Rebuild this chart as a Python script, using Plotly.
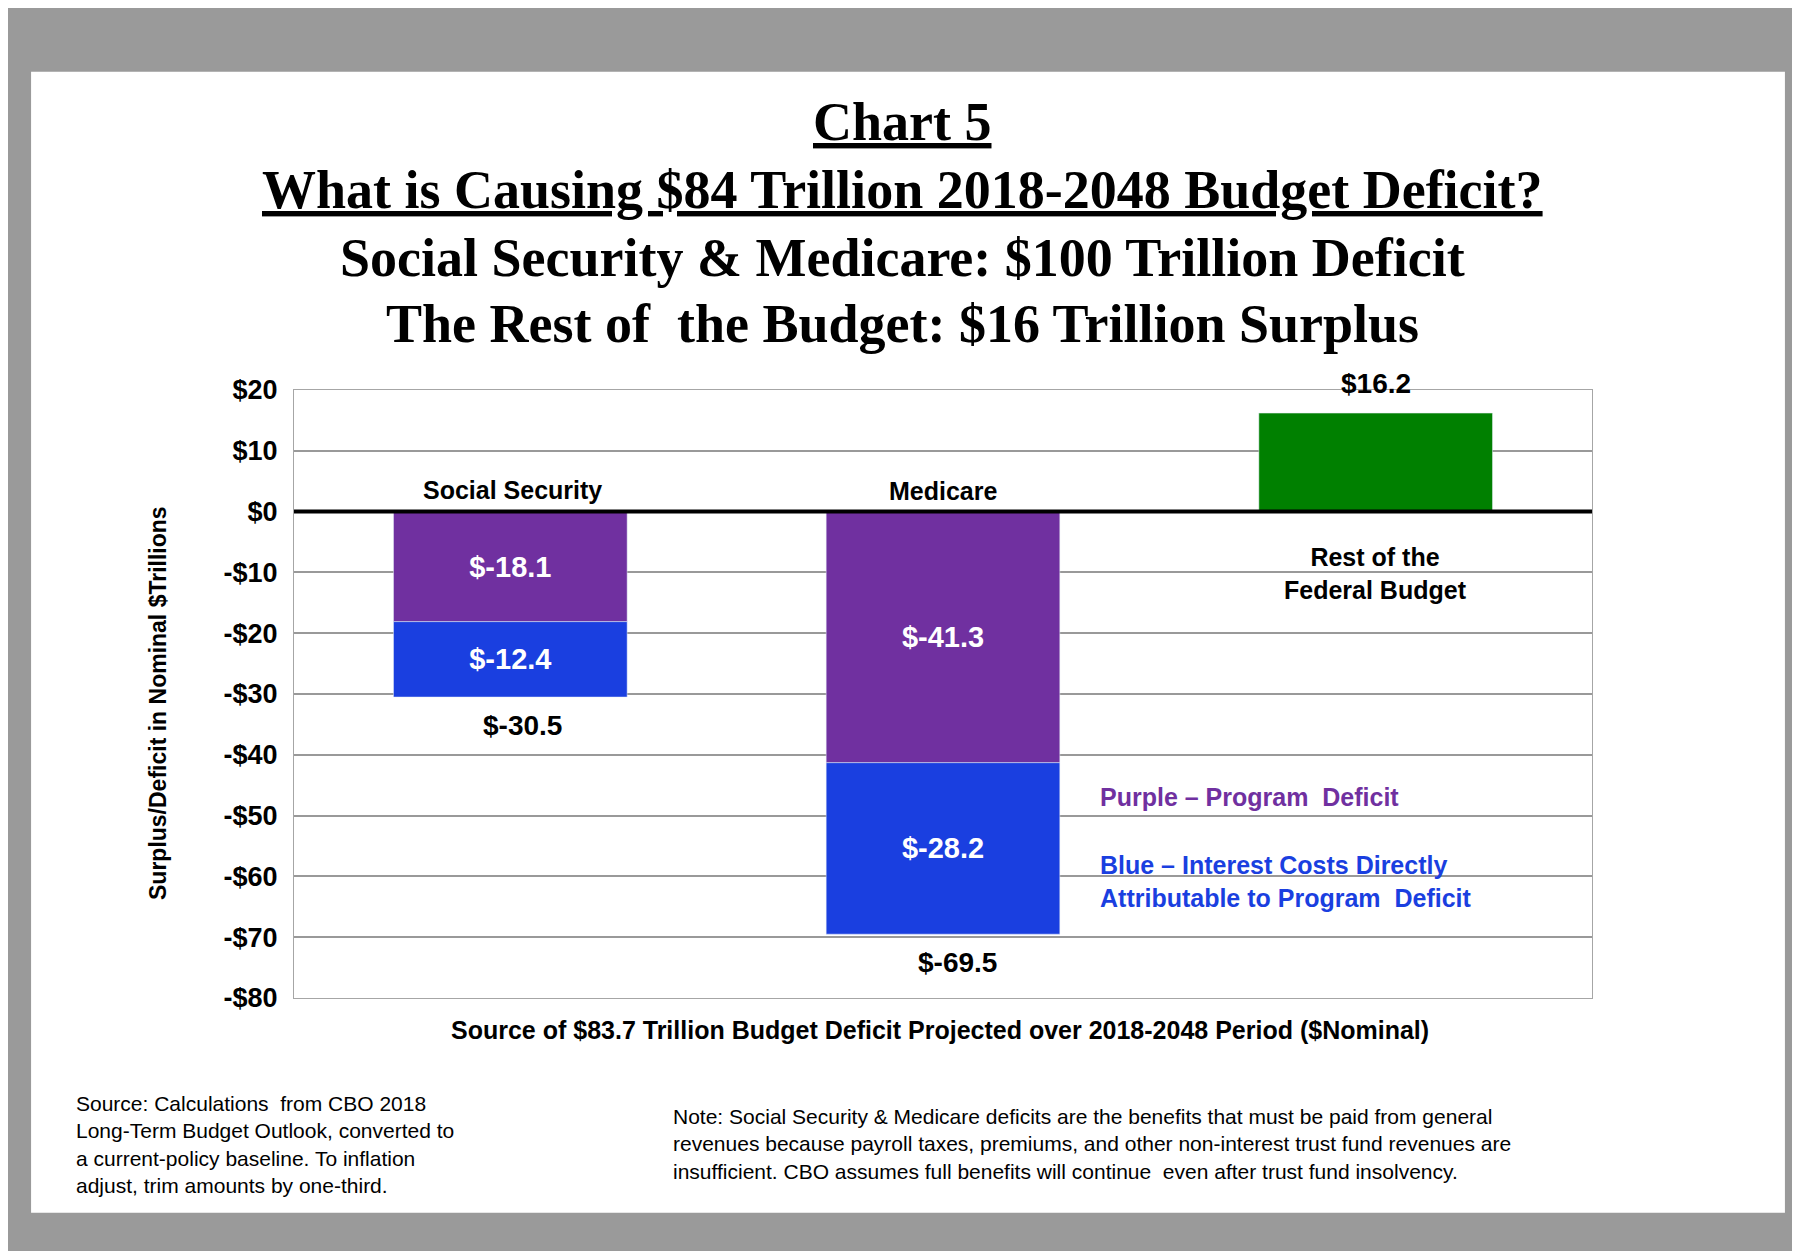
import plotly.graph_objects as go

categories = ["Social Security", "Medicare", "Rest of the Federal Budget"]
program_deficit = [-18.1, -41.3, 0]
interest_costs = [-12.4, -28.2, 0]
surplus = [0, 0, 16.2]
totals = [-30.5, -69.5, 16.2]
y_ticks = [20, 10, 0, -10, -20, -30, -40, -50, -60, -70, -80]
y_labels = ["$20", "$10", "$0", "-$10", "-$20", "-$30", "-$40", "-$50", "-$60", "-$70", "-$80"]

W, H = 1800, 1251
L, R, T, B = 286, 216, 382, 261
SX, SY = W / 1560, H / 1080

def px(x):  # reference pixel -> paper x
    return (x * SX - L) / (W - L - R)

def py(y):
    return (H - B - y * SY) / (H - T - B)

PURPLE = "#7030A0"
BLUE = "#1A3FE0"
GREEN = "#008000"
SANS = "Liberation Sans"
SERIF = "Liberation Serif"

fig = go.Figure()
fig.add_trace(go.Bar(x=categories, y=program_deficit, marker_color=PURPLE, width=0.54,
                     text=["<b>$-18.1</b>", "<b>$-41.3</b>", ""], textposition="inside",
                     insidetextanchor="middle", textfont=dict(color="white", size=29, family=SANS)))
fig.add_trace(go.Bar(x=categories, y=interest_costs, marker_color=BLUE, width=0.54,
                     text=["<b>$-12.4</b>", "<b>$-28.2</b>", ""], textposition="inside",
                     insidetextanchor="middle", textfont=dict(color="white", size=29, family=SANS)))
fig.add_trace(go.Bar(x=categories, y=surplus, marker_color=GREEN, width=0.54))

ann = []
for c, t in zip(categories, totals):
    ann.append(dict(x=c, y=t, text=f"<b>${t}</b>", showarrow=False, yshift=-28 if t < 0 else 30,
                    font=dict(size=28, family=SANS, color="black")))
ann[0]["xshift"] = 12
ann[1]["xshift"] = 14

def txt(x, y, s, size, color="black", family=SANS, align="center", xanchor="center"):
    ann.append(dict(xref="paper", yref="paper", x=px(x), y=py(y), text=s, showarrow=False,
                    font=dict(size=size, color=color, family=family), align=align,
                    xanchor=xanchor, yanchor="middle"))

txt(775, 98, "<b><u>Chart 5</u></b>", 54, family=SERIF)
txt(775, 157, "<b><u>What is Causing $84 Trillion 2018-2048 Budget Deficit?</u></b>", 54, family=SERIF)
txt(775, 216, "<b>Social Security &amp; Medicare: $100 Trillion Deficit</b>", 54, family=SERIF)
txt(775, 273, "<b>The Rest of  the Budget: $16 Trillion Surplus</b>", 54, family=SERIF)
txt(437, 416, "<b>Social Security</b>", 25)
txt(810, 417, "<b>Medicare</b>", 25)
txt(1185, 488, "<b>Rest of the<br>Federal Budget</b>", 25)
txt(945, 681, "<b>Purple – Program  Deficit</b>", 25, color=PURPLE, align="left", xanchor="left")
txt(945, 754, "<b>Blue – Interest Costs Directly<br>Attributable to Program  Deficit</b>", 25,
    color=BLUE, align="left", xanchor="left")
txt(808, 882, "<b>Source of $83.7 Trillion Budget Deficit Projected over 2018-2048 Period ($Nominal)</b>", 25)
txt(57, 981, "Source: Calculations  from CBO 2018<br>Long-Term Budget Outlook, converted to<br>"
    "a current-policy baseline. To inflation<br>adjust, trim amounts by one-third.", 21,
    align="left", xanchor="left")
txt(575, 981, "Note: Social Security &amp; Medicare deficits are the benefits that must be paid from general<br>"
    "revenues because payroll taxes, premiums, and other non-interest trust fund revenues are<br>"
    "insufficient. CBO assumes full benefits will continue  even after trust fund insolvency.", 21,
    align="left", xanchor="left")
ann.append(dict(xref="paper", yref="paper", x=px(117), y=py(600), textangle=-90, showarrow=False,
                text="<b>Surplus/Deficit in Nominal $Trillions</b>",
                font=dict(size=23, family=SANS, color="black")))

fig.update_layout(
    width=W, height=H, margin=dict(l=L, r=R, t=T, b=B),
    paper_bgcolor="#9a9a9a", plot_bgcolor="white",
    barmode="relative", bargap=0.46, showlegend=False,
    annotations=ann,
    shapes=[
        dict(type="rect", xref="paper", yref="paper", x0=px(20), x1=px(1540), y0=py(1040), y1=py(55),
             fillcolor="white", line=dict(width=0), layer="below"),
        dict(type="line", xref="paper", yref="y", x0=0, x1=1, y0=0, y1=0,
             line=dict(color="black", width=4)),
    ],
    xaxis=dict(showticklabels=False, range=[-0.5, 2.5], showline=True, mirror=True,
               linecolor="#a6a6a6", ticks=""),
    yaxis=dict(range=[-80, 20], tickvals=y_ticks, ticktext=y_labels, showgrid=True, gridcolor="#999999",
               gridwidth=1.5, zeroline=False, showline=True, mirror=True, linecolor="#a6a6a6",
               tickfont=dict(size=27, family=SANS, color="black", weight="bold"), ticklabelstandoff=10),
    font=dict(family=SANS),
)
fig.write_html("out.html")
